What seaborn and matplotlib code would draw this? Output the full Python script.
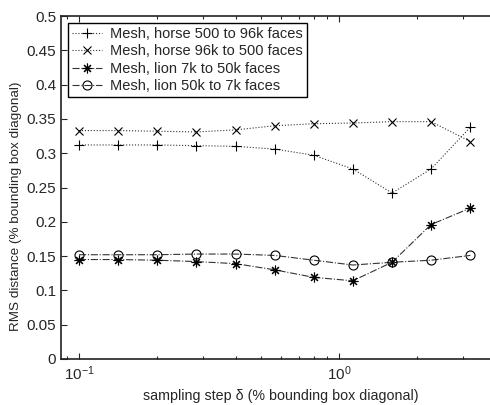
import numpy as np
import pandas as pd
import matplotlib
matplotlib.use("Agg")
import matplotlib.pyplot as plt
import seaborn as sns
from matplotlib.ticker import LogLocator, FixedLocator, NullFormatter

# ---- data ----
step = [0.1, 0.141, 0.2, 0.283, 0.4, 0.566, 0.8, 1.13, 1.6, 2.26, 3.2]
horse_up = [0.312, 0.312, 0.312, 0.311, 0.310, 0.306, 0.297, 0.277, 0.242, 0.277, 0.338]
horse_down = [0.333, 0.333, 0.332, 0.331, 0.334, 0.340, 0.343, 0.344, 0.346, 0.346, 0.317]
lion_up = [0.145, 0.145, 0.144, 0.142, 0.139, 0.130, 0.119, 0.114, 0.141, 0.196, 0.220]
lion_down = [0.152, 0.152, 0.152, 0.153, 0.153, 0.151, 0.144, 0.137, 0.141, 0.144, 0.151]
labels = ["Mesh, horse 500 to 96k faces", "Mesh, horse 96k to 500 faces",
          "Mesh, lion 7k to 50k faces", "Mesh, lion 50k to 7k faces"]
yticks = [0, 0.05, 0.1, 0.15, 0.2, 0.25, 0.3, 0.35, 0.4, 0.45, 0.5]
ytick_labels = ["0", "0.05", "0.1", "0.15", "0.2", "0.25", "0.3", "0.35", "0.4", "0.45", "0.5"]
xlabel = "sampling step δ (% bounding box diagonal)"
ylabel = "RMS distance (% bounding box diagonal)"

sns.set_style("ticks")
plt.rcParams["font.family"] = ["Liberation Sans", "DejaVu Sans"]
plt.rcParams["xtick.direction"] = "in"
plt.rcParams["ytick.direction"] = "in"
plt.rcParams["mathtext.fontset"] = "custom"
plt.rcParams["mathtext.rm"] = "Liberation Sans"
plt.rcParams["mathtext.it"] = "Liberation Sans"

fig = plt.figure(figsize=(4.9, 4.05), dpi=100)
ax = fig.add_axes([61 / 490, (405 - 359) / 405, (500 - 61) / 490, (359 - 16) / 405])

series = [horse_up, horse_down, lion_up, lion_down]
markers = ["+", "x", (8, 2, 0), "o"]
msizes = [7.5, 5.5, 7, 6.5]
styles = [":", ":", "-.", "-."]
for vals, lab, mk, ms, ls in zip(series, labels, markers, msizes, styles):
    df = pd.DataFrame({"step": step, "rms": vals})
    sns.lineplot(data=df, x="step", y="rms", ax=ax, label=lab, color="#333333",
                 linestyle=ls, linewidth=0.8, marker=mk, markersize=ms,
                 markeredgecolor="black", markerfacecolor="none" if mk == "o" else "black",
                 markeredgewidth=0.8)

ax.set_xscale("log")
# right edge lies beyond the image
l = 10 ** (-1 - 18 / 260)
r = 10 ** ((500 - 339) / 260)
ax.set_xlim(l, r)
ax.set_ylim(0, 0.5)
ax.set_yticks(yticks)
ax.set_yticklabels(ytick_labels, fontsize=11)
ax.xaxis.set_major_locator(FixedLocator([0.1, 1.0]))
ax.set_xticklabels([r"$10^{-1}$", r"$10^{0}$"], fontsize=11)
ax.xaxis.set_minor_locator(LogLocator(base=10, subs=np.arange(2, 10)))
ax.xaxis.set_minor_formatter(NullFormatter())
ax.tick_params(axis="both", which="both", top=True, right=True, length=4, width=0.8)
ax.tick_params(axis="x", which="minor", length=2.5)
ax.tick_params(axis="x", pad=4)
for s in ax.spines.values():
    s.set_linewidth(1.2)
    s.set_color("#222222")
ax.set_xlabel(xlabel, fontsize=10.3, labelpad=4)
ax.set_ylabel(ylabel, fontsize=9.7)
ax.yaxis.set_label_coords(-0.088, 0.446)

leg = ax.legend(loc="upper left", bbox_to_anchor=(0.016, 0.98), fontsize=10.5, frameon=True,
                fancybox=False, edgecolor="black", framealpha=1, handlelength=2.0,
                borderpad=0.3, labelspacing=0.22, handletextpad=0.6, borderaxespad=0)
leg.get_frame().set_linewidth(1.0)

fig.savefig("out.png", dpi=100)
